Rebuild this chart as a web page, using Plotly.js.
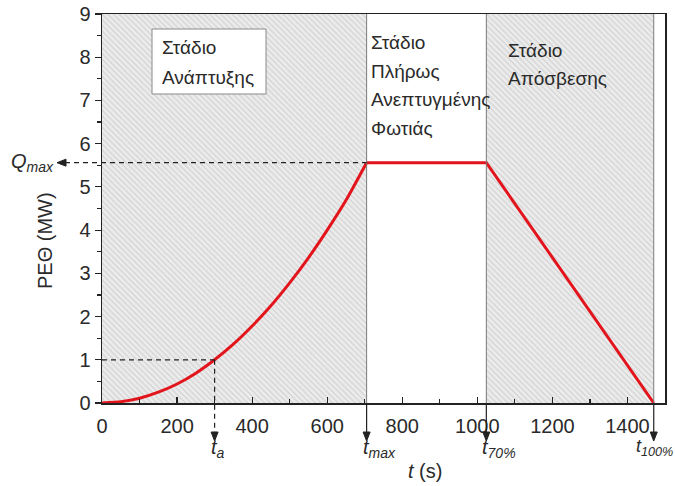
<!DOCTYPE html>
<html>
<head>
<meta charset="utf-8">
<script src="https://cdn.plot.ly/plotly-3.0.1.min.js"></script>
<style>html,body{margin:0;padding:0;background:#fff;}#chart{width:675px;height:486px;}</style>
</head>
<body>
<div id="chart"></div>
<script>
// ---- data ----
const tGrowth = [0, 50, 100, 150, 200, 250, 300, 350, 400, 450, 500, 550, 600, 650, 705];
const qGrowth = [0, 0.03, 0.11, 0.25, 0.44, 0.69, 1.0, 1.36, 1.78, 2.25, 2.78, 3.36, 4.0, 4.69, 5.56];
const tPlateau = [705, 1024];
const qPlateau = [5.56, 5.56];
const tDecay = [1024, 1470];
const qDecay = [5.56, 0];
const tA = 300, qA = 1.0;          // t_a, 1 MW
const tMax = 705, tP70 = 1024, tP100 = 1470;
const qMax = 5.56;
const xTickVals = [0, 200, 400, 600, 800, 1000, 1200, 1400];
const yTickVals = [0, 1, 2, 3, 4, 5, 6, 7, 8, 9];
const stageGrowth = [0, tMax];
const stageDecay = [tP70, tP100];
const xRange = [0, 1500], yRange = [0, 9];
const stageText1 = ['Στάδιο', 'Ανάπτυξης'];
const stageText2 = ['Στάδιο', 'Πλήρως', 'Ανεπτυγμένης', 'Φωτιάς'];
const stageText3 = ['Στάδιο', 'Απόσβεσης'];
const timeLabels = ['<i>t</i><sub><i>a</i></sub>', '<i>t</i><sub><i>max</i></sub>', '<i>t</i><sub><i>70%</i></sub>', '<i>t</i><sub><i>100%</i></sub>'];

// ---- layout geometry ----
const W = 675, H = 486, L = 102, R = 10, T = 14, B = 83;
const PW = W - L - R, PH = H - T - B;
const px = p => (p - L) / PW;
const py = p => (H - B - p) / PH;
const uX = (xRange[1] - xRange[0]) / PW;   // data units per pixel
const uY = (yRange[1] - yRange[0]) / PH;
const FONT = '"Liberation Sans", Arial, sans-serif';
const TXT = '#2a2a2a';

const pattern = {shape: '\\', bgcolor: '#ececec', fgcolor: '#d2d2d2', size: 4, solidity: 0.3};
function stageTrace(xs) {
  return {
    x: [xs[0], xs[1], xs[1], xs[0], xs[0]],
    y: [yRange[0], yRange[0], yRange[1], yRange[1], yRange[0]],
    type: 'scatter', mode: 'none', fill: 'toself', fillcolor: '#ececec',
    fillpattern: pattern, hoverinfo: 'skip', showlegend: false
  };
}

const RED = {color: '#e3151c', width: 3};
const traces = [
  stageTrace(stageGrowth),
  stageTrace(stageDecay),
  {x: tGrowth, y: qGrowth, type: 'scatter', mode: 'lines', line: Object.assign({shape: 'spline', smoothing: 0.5}, RED), showlegend: false, hoverinfo: 'skip'},
  {x: tPlateau.concat(tDecay.slice(1)), y: qPlateau.concat(qDecay.slice(1)), type: 'scatter', mode: 'lines', line: Object.assign({shape: 'linear'}, RED), showlegend: false, hoverinfo: 'skip'}
];

const shapes = [];
// stage dividers
[tMax, tP70, tP100].forEach(t => shapes.push({type: 'line', xref: 'x', yref: 'y', x0: t, x1: t, y0: yRange[0], y1: yRange[1], line: {color: '#7a7a7a', width: 1}}));
// text box of first stage
shapes.push({type: 'rect', xref: 'paper', yref: 'paper', x0: px(152), x1: px(266), y0: py(29), y1: py(94), fillcolor: '#ffffff', line: {color: '#8a8a8a', width: 1}});
// dashed guides
const dash = {color: '#222', width: 1.2, dash: '5px,4px'};
shapes.push({type: 'line', xref: 'x', yref: 'y', x0: 0, x1: tA, y0: qA, y1: qA, line: dash});
shapes.push({type: 'line', xref: 'x', yref: 'paper', x0: tA, x1: tA, y0: qA / yRange[1], y1: py(433), line: dash});
shapes.push({type: 'line', xref: 'paper', yref: 'y', x0: px(65), x1: tMax / xRange[1], y0: qMax, y1: qMax, line: dash});
// solid down arrows below the axis
[tMax, tP70, tP100].forEach(t => shapes.push({type: 'line', xref: 'x', yref: 'paper', x0: t, x1: t, y0: 0, y1: py(434), line: {color: '#222', width: 1.2}}));
// arrow heads
const hw = 3.5, hl = 9;
[tA, tMax, tP70, tP100].forEach(t => shapes.push({type: 'path', xref: 'x', yref: 'paper',
  path: `M ${t - hw * uX},${py(441 - hl)} L ${t + hw * uX},${py(441 - hl)} L ${t},${py(441)} Z`,
  fillcolor: '#222', line: {color: '#222', width: 1}}));
shapes.push({type: 'path', xref: 'paper', yref: 'y',
  path: `M ${px(57 + hl)},${qMax - hw * uY} L ${px(57 + hl)},${qMax + hw * uY} L ${px(57)},${qMax} Z`,
  fillcolor: '#222', line: {color: '#222', width: 1}});

const annotations = [];
// stage texts
const st = {font: {family: FONT, size: 19, color: TXT}, showarrow: false, xref: 'paper', yref: 'paper', xanchor: 'left', yanchor: 'middle'};
stageText1.forEach((s, i) => annotations.push(Object.assign({}, st, {text: s, x: px(160), y: py(48 + i * 29)})));
stageText2.forEach((s, i) => annotations.push(Object.assign({}, st, {text: s, x: px(369), y: py(43 + i * 28.5)})));
stageText3.forEach((s, i) => annotations.push(Object.assign({}, st, {text: s, x: px(506), y: py(50 + i * 28.5)})));
// time labels
[tA, tMax, tP70].forEach((t, i) => annotations.push({x: t, xref: 'x', y: py(434), yref: 'paper', text: timeLabels[i], showarrow: false, xanchor: 'left', xshift: -6, yanchor: 'top', font: {family: FONT, size: 20, color: TXT}}));
annotations.push({x: px(675), xref: 'paper', y: py(434), yref: 'paper', text: timeLabels[3], showarrow: false, xanchor: 'right', yanchor: 'top', font: {family: FONT, size: 18, color: TXT}});
annotations.push({x: px(56), xref: 'paper', y: qMax, yref: 'y', text: '<i>Q</i><sub><i>max</i></sub>', showarrow: false, xanchor: 'right', yanchor: 'middle', font: {family: FONT, size: 20, color: TXT}});
// axis titles
annotations.push({x: px(425), xref: 'paper', y: py(471), yref: 'paper', text: '<i>t</i> (s)', showarrow: false, xanchor: 'center', yanchor: 'middle', font: {family: FONT, size: 20, color: TXT}});
annotations.push({x: px(45), xref: 'paper', y: py(241), yref: 'paper', text: 'ΡΕΘ (MW)', textangle: -90, showarrow: false, xanchor: 'center', yanchor: 'middle', font: {family: FONT, size: 20, color: TXT}});

const layout = {
  width: W, height: H,
  margin: {l: L, r: R, t: T, b: B},
  paper_bgcolor: '#ffffff', plot_bgcolor: '#ffffff',
  font: {family: FONT, color: TXT},
  showlegend: false,
  xaxis: {range: xRange, tickvals: xTickVals, ticktext: xTickVals.map(String), ticks: 'inside', ticklen: 6, tickwidth: 1.2, tickcolor: '#222',
          minor: {dtick: 100, ticks: 'inside', ticklen: 4, tickcolor: '#222'},
          showgrid: false, zeroline: false, showline: true, linecolor: '#222', linewidth: 1.5, mirror: true,
          tickfont: {family: FONT, size: 20, color: TXT}, ticklabelstandoff: 4},
  xaxis2: {range: xRange, overlaying: 'x', side: 'top', anchor: 'y', tickvals: xTickVals, ticks: 'outside', ticklen: 6, tickwidth: 1.2, tickcolor: '#222',
           minor: {dtick: 100, ticks: 'outside', ticklen: 4, tickcolor: '#222'},
           showticklabels: false, showgrid: false, zeroline: false, showline: false},
  yaxis: {range: yRange, tickvals: yTickVals, ticktext: yTickVals.map(String), ticks: 'outside', ticklen: 6, tickwidth: 1.2, tickcolor: '#222',
          minor: {dtick: 0.5, ticks: 'outside', ticklen: 4, tickcolor: '#222'},
          showgrid: false, zeroline: false, showline: true, linecolor: '#222', linewidth: 1.5, mirror: true,
          tickfont: {family: FONT, size: 20, color: TXT}},
  shapes: shapes,
  annotations: annotations
};

Plotly.newPlot('chart', traces, layout, {displayModeBar: false, staticPlot: true});
</script>
</body>
</html>
